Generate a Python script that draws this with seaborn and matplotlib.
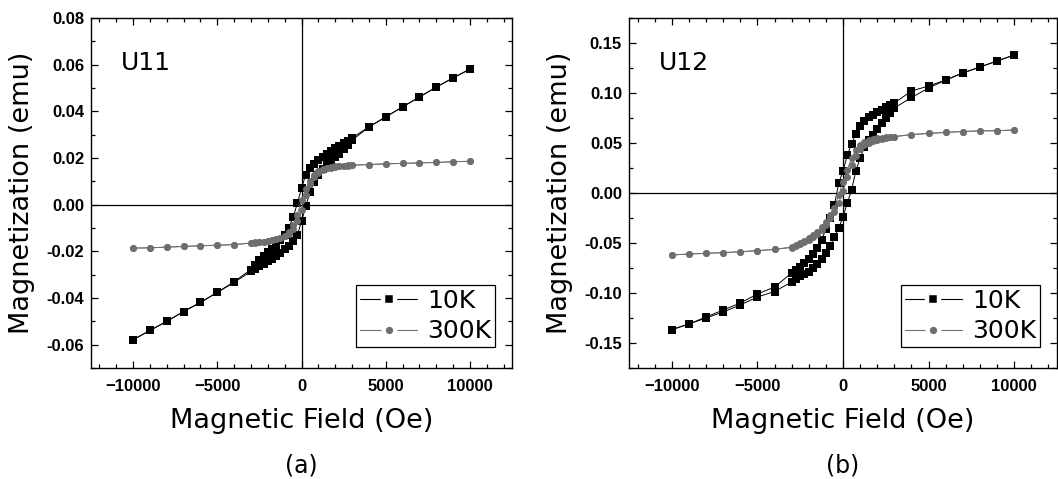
import numpy as np
import pandas as pd
import matplotlib
matplotlib.use("Agg")
import matplotlib.pyplot as plt
from matplotlib.lines import Line2D
from matplotlib.ticker import MultipleLocator, FormatStrFormatter
import seaborn as sns

# field sweep, Oe (down: +10 kOe -> -10 kOe)
H_DOWN = [10000, 9000, 8000, 7000, 6000, 5000, 4000, 3000,
          2750, 2500, 2250, 2000, 1750, 1500, 1250, 1000, 750, 500, 250,
          0, -250, -500, -750, -1000, -1250, -1500, -1750, -2000, -2250,
          -2500, -2750, -3000, -4000, -5000, -6000, -7000, -8000, -9000, -10000]
H_UP = H_DOWN[::-1]

# U11, magnetization in emu
u11_10k_down = [0.0581, 0.0543, 0.0504, 0.0461, 0.0419, 0.0376, 0.0333, 0.0286,
                0.0274, 0.0263, 0.0252, 0.0241, 0.0229, 0.0217, 0.0204, 0.0190, 0.0174, 0.0155, 0.0128,
                0.0070, 0.0005, -0.0055, -0.0098, -0.0130, -0.0153, -0.0172, -0.0189, -0.0205, -0.0220,
                -0.0239, -0.0258, -0.0278, -0.0330, -0.0376, -0.0419, -0.0458, -0.0500, -0.0539, -0.0579]
u11_10k_up = [-0.0579, -0.0539, -0.0500, -0.0458, -0.0419, -0.0376, -0.0333, -0.0286,
              -0.0276, -0.0265, -0.0254, -0.0243, -0.0231, -0.0219, -0.0206, -0.0192, -0.0176, -0.0157, -0.0130,
              -0.0072, -0.0007, 0.0053, 0.0096, 0.0128, 0.0151, 0.0170, 0.0187, 0.0203, 0.0219,
              0.0237, 0.0256, 0.0276, 0.0333, 0.0376, 0.0419, 0.0461, 0.0504, 0.0543, 0.0581]
u11_300k_down = [0.0186, 0.0184, 0.0181, 0.0179, 0.0177, 0.0175, 0.0172, 0.0169,
                 0.0168, 0.0167, 0.0165, 0.0164, 0.0161, 0.0157, 0.0152, 0.0144, 0.0128, 0.0103, 0.0066,
                 0.0020, -0.0043, -0.0088, -0.0118, -0.0134, -0.0143, -0.0148, -0.0152, -0.0155, -0.0158,
                 -0.0160, -0.0162, -0.0164, -0.0171, -0.0174, -0.0176, -0.0179, -0.0182, -0.0185, -0.0186]
u11_300k_up = [-0.0186, -0.0185, -0.0182, -0.0179, -0.0176, -0.0174, -0.0171, -0.0165,
               -0.0163, -0.0161, -0.0158, -0.0155, -0.0152, -0.0148, -0.0142, -0.0135, -0.0124, -0.0105, -0.0070,
               -0.0022, 0.0043, 0.0088, 0.0118, 0.0136, 0.0148, 0.0155, 0.0159, 0.0162, 0.0164,
               0.0166, 0.0167, 0.0169, 0.0172, 0.0175, 0.0177, 0.0179, 0.0181, 0.0184, 0.0186]

# U12, magnetization in emu
u12_10k_down = [0.138, 0.132, 0.126, 0.120, 0.113, 0.107, 0.102, 0.090,
                0.088, 0.086, 0.083, 0.081, 0.078, 0.076, 0.072, 0.067, 0.059, 0.049, 0.038,
                0.022, 0.010, -0.012, -0.025, -0.036, -0.047, -0.055, -0.061, -0.066, -0.070,
                -0.074, -0.077, -0.080, -0.094, -0.101, -0.110, -0.117, -0.124, -0.131, -0.1366]
u12_10k_up = [-0.1366, -0.131, -0.125, -0.119, -0.112, -0.104, -0.0985, -0.089,
              -0.086, -0.083, -0.081, -0.079, -0.075, -0.071, -0.066, -0.060, -0.053, -0.044, -0.035,
              -0.024, -0.010, 0.003, 0.022, 0.035, 0.046, 0.053, 0.058, 0.064, 0.070,
              0.075, 0.080, 0.085, 0.0955, 0.105, 0.113, 0.120, 0.126, 0.132, 0.138]
u12_300k_down = [0.063, 0.0623, 0.0621, 0.0615, 0.0606, 0.0596, 0.0584, 0.0565,
                 0.0562, 0.0558, 0.0553, 0.0548, 0.0540, 0.0528, 0.0510, 0.0485, 0.0430, 0.0350, 0.0230,
                 0.0110, -0.0020, -0.0150, -0.0220, -0.0285, -0.0340, -0.0385, -0.0420, -0.0450, -0.0475,
                 -0.0500, -0.0520, -0.0540, -0.0564, -0.0577, -0.0587, -0.0597, -0.0603, -0.0610, -0.0620]
u12_300k_up = [-0.0620, -0.0610, -0.0603, -0.0597, -0.0587, -0.0577, -0.0564, -0.0545,
               -0.0530, -0.0510, -0.0490, -0.0465, -0.0440, -0.0405, -0.0365, -0.0315, -0.0250, -0.0185, -0.0100,
               0.0020, 0.0160, 0.0280, 0.0370, 0.0440, 0.0480, 0.0505, 0.0522, 0.0535, 0.0545,
               0.0552, 0.0558, 0.0563, 0.0584, 0.0596, 0.0606, 0.0615, 0.0621, 0.0623, 0.063]

SAMPLES = ["U11", "U12"]
PANEL_TAGS = ["(a)", "(b)"]
TEMPS = ["10K", "300K"]
Y_LIMITS = [(-0.07, 0.08), (-0.175, 0.175)]
Y_MAJOR = [0.02, 0.05]

COLORS = {"10K": "#000000", "300K": "#6e6e6e"}
MARKERS = {"10K": "s", "300K": "o"}
MSIZE = {"10K": 5.8, "300K": 5.0}


def build_frame():
    rows = []
    loops = {
        ("U11", "10K"): (u11_10k_down, u11_10k_up),
        ("U11", "300K"): (u11_300k_down, u11_300k_up),
        ("U12", "10K"): (u12_10k_down, u12_10k_up),
        ("U12", "300K"): (u12_300k_down, u12_300k_up),
    }
    for (sample, temp), (down, up) in loops.items():
        for h, m in zip(H_DOWN, down):
            rows.append((sample, temp, "down", h, m))
        for h, m in zip(H_UP, up):
            rows.append((sample, temp, "up", h, m))
    return pd.DataFrame(rows, columns=["sample", "temp", "branch", "H", "M"])


df = build_frame()

sns.set_style("ticks")
plt.rcParams["font.family"] = ["DejaVu Sans"]
for key in ["text.color", "axes.labelcolor", "xtick.color", "ytick.color", "axes.edgecolor"]:
    plt.rcParams[key] = "black"

fig = plt.figure(figsize=(10.58, 4.79), dpi=100)
W, Hpx = 1058, 479
axes = [
    fig.add_axes([91 / W, (Hpx - 368) / Hpx, 421 / W, 350 / Hpx]),
    fig.add_axes([629 / W, (Hpx - 368) / Hpx, 428 / W, 350 / Hpx]),
]

for i, ax in enumerate(axes):
    sub = df[df["sample"] == SAMPLES[i]]
    ax.axhline(0, color="black", lw=0.9, zorder=1)
    ax.axvline(0, color="black", lw=0.9, zorder=1)
    for temp in TEMPS:
        for branch in ["down", "up"]:
            part = sub[(sub["temp"] == temp) & (sub["branch"] == branch)]
            sns.lineplot(data=part, x="H", y="M", ax=ax, sort=False, estimator=None,
                         color=COLORS[temp], lw=0.7, marker=MARKERS[temp],
                         markersize=MSIZE[temp], markeredgewidth=0,
                         markerfacecolor=COLORS[temp], zorder=3 if temp == "300K" else 2)

    ax.set_xlim(-12500, 12500)
    ax.set_ylim(*Y_LIMITS[i])
    ax.xaxis.set_major_locator(MultipleLocator(5000))
    ax.xaxis.set_minor_locator(MultipleLocator(1000))
    ax.yaxis.set_major_locator(MultipleLocator(Y_MAJOR[i]))
    ax.yaxis.set_minor_locator(MultipleLocator(Y_MAJOR[i] / 2))
    ax.yaxis.set_major_formatter(FormatStrFormatter("%.2f"))
    ax.tick_params(which="both", direction="in", top=True, right=True, width=0.9)
    ax.tick_params(which="major", length=5)
    ax.tick_params(which="minor", length=3)
    ax.tick_params(axis="x", pad=8)
    ax.tick_params(axis="y", pad=5)
    for lab in ax.get_xticklabels() + ax.get_yticklabels():
        lab.set_fontfamily("Liberation Sans")
        lab.set_fontweight("bold")
        lab.set_fontsize(12)
    for sp in ax.spines.values():
        sp.set_linewidth(1.0)

    ax.set_xlabel("Magnetic Field (Oe)", fontsize=19.5, labelpad=10)
    ax.set_ylabel("Magnetization (emu)", fontsize=19.5, labelpad=8)
    ax.text(0.07, 0.87, SAMPLES[i], transform=ax.transAxes, fontsize=18, va="center")
    ax.text(0.5, -0.28, PANEL_TAGS[i], transform=ax.transAxes, fontsize=17,
            ha="center", va="center")

    handles = [Line2D([], [], color=COLORS[t], lw=0.8, marker=MARKERS[t],
                      markersize=9 if t == "10K" else 8.5, markerfacecolor=COLORS[t],
                      markeredgecolor="white", markeredgewidth=3.2) for t in TEMPS]
    leg = ax.legend(handles, TEMPS, loc="lower right", bbox_to_anchor=(0.96, 0.06),
                    fontsize=18, frameon=True, fancybox=False, framealpha=1,
                    edgecolor="black", borderpad=0.15, labelspacing=0.25,
                    handlelength=2.3, handletextpad=0.4, borderaxespad=0)
    leg.get_frame().set_linewidth(0.9)

fig.savefig("out.png", dpi=100)
